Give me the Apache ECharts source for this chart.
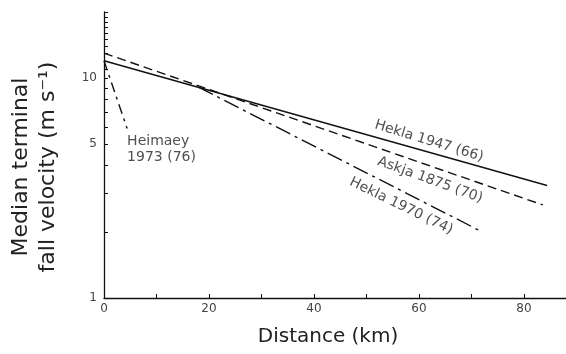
<!DOCTYPE html>
<html>
<head>
<meta charset="utf-8">
<script src="https://cdn.jsdelivr.net/npm/echarts@6/dist/echarts.min.js"></script>
<style>
  html, body { margin: 0; padding: 0; background: #fff; }
  #chart { width: 566px; height: 354px; }
</style>
</head>
<body>
<div id="chart"></div>
<script>
// Fitted trends of median terminal fall velocity (m/s) against distance (km):
// each trend is given by its two end points.
const hekla1947   = [[0, 12.0], [84.4, 3.25]];
const askja1875   = [[0, 13.0], [83.6, 2.65]];
const hekla1970   = [[18, 9.1], [72, 2.0]];
const heimaey1973 = [[0, 12.0], [4.4, 5.9]];

// Axis ticks and tick labels
const xTicks = [0, 10, 20, 30, 40, 50, 60, 70, 80];
const xTickLabels = [0, 20, 40, 60, 80];
const yTicks = [1, 2, 3, 4, 5, 6, 7, 8, 9, 10, 11, 12, 13, 14, 15, 16, 17, 18, 19, 20];
const yTickLabels = [1, 5, 10];

const FONT = 'DejaVu Sans';
const INK = '#111';

const chart = echarts.init(document.getElementById('chart'), null, { renderer: 'canvas' });

function trend(name, data, dash) {
  return {
    name: name,
    type: 'line',
    data: data,
    symbol: 'none',
    silent: true,
    lineStyle: { color: INK, width: 1.4, type: dash }
  };
}

function note(text, at, rotate, align) {
  return {
    type: 'scatter',
    silent: true,
    symbolSize: 0,
    data: [at],
    label: {
      show: true,
      position: 'inside',
      formatter: text,
      rotate: rotate,
      align: align || 'center',
      verticalAlign: 'middle',
      fontFamily: FONT,
      fontSize: 14,
      lineHeight: 16,
      color: '#222'
    }
  };
}

chart.setOption({
  animation: false,
  backgroundColor: '#fff',
  grid: { left: 104, right: 0, top: 12, bottom: 56 },
  xAxis: {
    type: 'value',
    min: 0,
    max: 88,
    name: 'Distance (km)',
    nameLocation: 'middle',
    nameGap: 29,
    nameTextStyle: { fontFamily: FONT, fontSize: 20, color: '#222', verticalAlign: 'top', padding: [0, 14, 0, 0] },
    axisLine: { lineStyle: { color: INK, width: 1.3 } },
    axisTick: { show: true, inside: true, length: 4, customValues: xTicks, lineStyle: { color: INK } },
    axisLabel: { customValues: xTickLabels, margin: 5, fontFamily: FONT, fontSize: 12, color: '#444' },
    splitLine: { show: false }
  },
  yAxis: {
    type: 'log',
    logBase: 10,
    min: 1,
    max: 20,
    name: 'Median terminal\nfall velocity (m s\u207B\u00B9)',
    nameLocation: 'middle',
    nameGap: 42,
    nameTextStyle: { fontFamily: FONT, fontSize: 22, lineHeight: 27, color: '#222', padding: [0, 24, 0, 0] },
    axisLine: { lineStyle: { color: INK, width: 1.3 } },
    axisTick: { show: true, inside: true, length: 4, customValues: yTicks, lineStyle: { color: INK } },
    axisLabel: { customValues: yTickLabels, margin: 7, fontFamily: FONT, fontSize: 12, color: '#444' },
    splitLine: { show: false },
    minorTick: { show: false }
  },
  series: [
    trend('Hekla 1947 (66)', hekla1947, 'solid'),
    trend('Askja 1875 (70)', askja1875, [9, 5]),
    trend('Hekla 1970 (74)', hekla1970, [16, 5, 3, 5]),
    trend('Heimaey 1973 (76)', heimaey1973, [10, 5, 3, 5]),
    note('Hekla 1947 (66)', [61.9, 5.17], -17),
    note('Askja 1875 (70)', [62.1, 3.44], -20),
    note('Hekla 1970 (74)', [56.6, 2.62], -26),
    note('Heimaey\n1973 (76)', [4.4, 4.73], 0, 'left')
  ]
});
</script>
</body>
</html>
